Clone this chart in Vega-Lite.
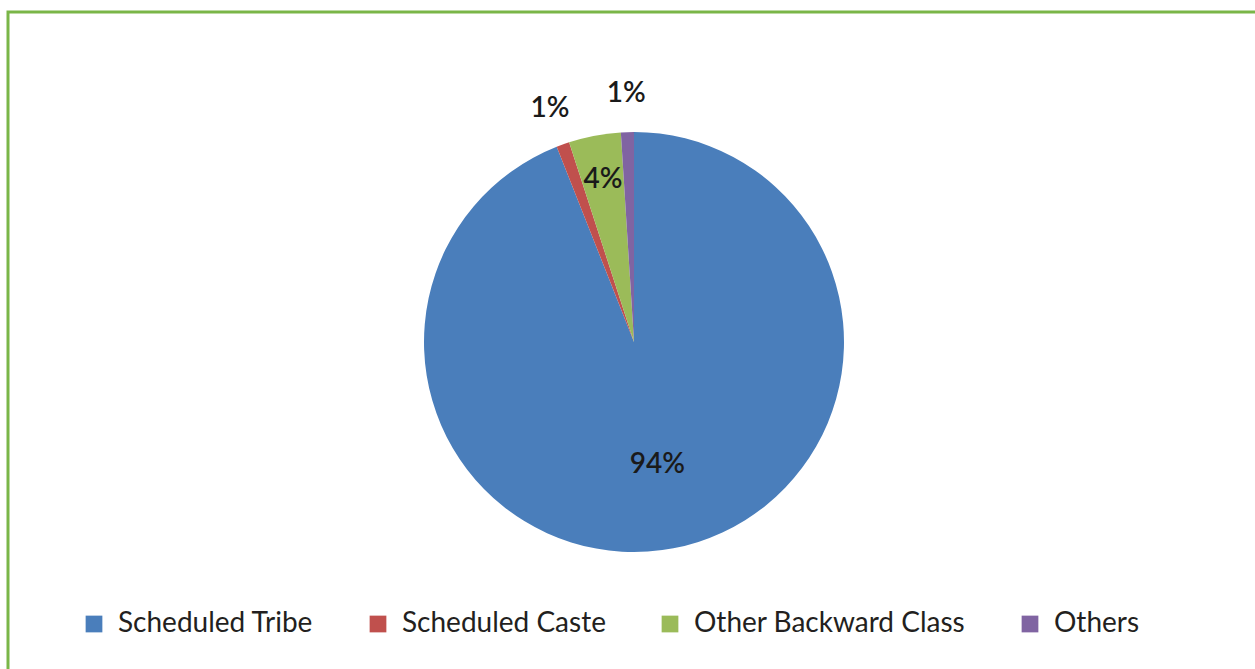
{
  "$schema": "https://vega.github.io/schema/vega-lite/v6.json",
  "width": 1252,
  "height": 660,
  "autosize": "none",
  "padding": {"left": 8, "top": 12, "right": -5, "bottom": -3},
  "background": "white",
  "view": {"stroke": "#7ab648", "strokeWidth": 3},
  "config": {"font": "Lato", "style": {"view": {"stroke": "#7ab648", "strokeWidth": 3}}},
  "data": {"values": [
    {"category": "Scheduled Tribe", "share": 0.94, "rank": 1},
    {"category": "Scheduled Caste", "share": 0.01, "rank": 2},
    {"category": "Other Backward Class", "share": 0.04, "rank": 3},
    {"category": "Others", "share": 0.01, "rank": 4}
  ]},
  "encoding": {
    "theta": {"field": "share", "type": "quantitative", "stack": true},
    "order": {"field": "rank", "type": "quantitative"}
  },
  "layer": [
    {
      "mark": {"type": "arc", "radius": 210},
      "encoding": {
        "color": {
          "field": "category",
          "type": "nominal",
          "scale": {
            "domain": ["Scheduled Tribe", "Scheduled Caste", "Other Backward Class", "Others"],
            "range": ["#4a7ebb", "#c0504d", "#9bbb59", "#8064a2"]
          },
          "legend": {
            "title": null,
            "orient": "none",
            "legendX": 72,
            "legendY": 598,
            "direction": "horizontal",
            "symbolType": "square",
            "symbolSize": 280,
            "symbolStrokeWidth": 0,
            "symbolOpacity": 1,
            "labelFontSize": 28,
            "labelFont": "Lato",
            "labelColor": "#231f20",
            "labelOffset": 10,
            "labelLimit": 500,
            "columnPadding": 50,
            "padding": 0
          }
        }
      }
    },
    {
      "mark": {"type": "text", "fontSize": 28, "font": "Lato", "fontWeight": 600},
      "encoding": {
        "text": {"field": "share", "type": "quantitative", "format": ".0%"},
        "color": {"value": "#1a1a1a"},
        "radius": {
          "field": "share",
          "type": "quantitative",
          "scale": {"type": "linear", "zero": false, "domain": [0.01, 0.04, 0.94], "range": [248, 165, 125]}
        }
      }
    }
  ]
}
